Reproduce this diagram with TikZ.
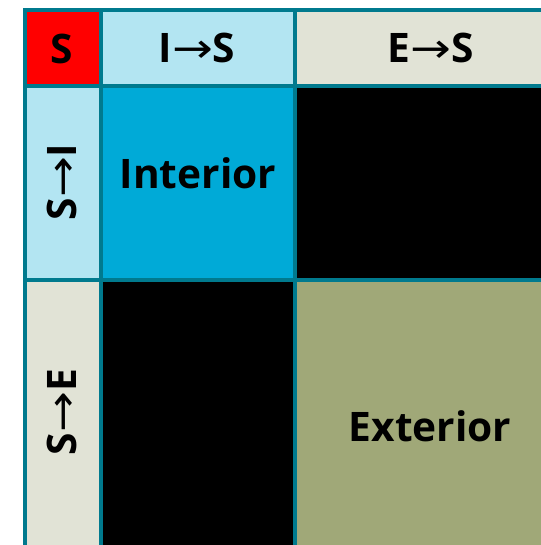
\documentclass[tikz,border=0pt]{standalone}
\usepackage{fontspec}
\setmainfont{Open Sans}
\newfontfamily\arrowfont{DejaVu Sans}
\definecolor{gridline}{RGB}{0,122,142}
\definecolor{paleblue}{RGB}{179,229,242}
\definecolor{deepcyan}{RGB}{0,170,215}
\definecolor{palegrey}{RGB}{225,227,214}
\definecolor{olive}{RGB}{160,168,120}
\newcommand{\arr}{{\arrowfont\mdseries\scalebox{1.2}[1]{→}}}
\begin{document}
\begin{tikzpicture}[x=0.75pt,y=-0.75pt,
  lbl/.style={font=\fontsize{30.5}{36}\selectfont\bfseries, text=black, inner sep=0pt},
  rule/.style={draw=gridline, line width=3pt}]
\useasboundingbox (0,0) rectangle (541,545);
\clip (0,0) rectangle (541,545);
% cell fills
\fill[red]      (24.5,10)  rectangle (101,86);
\fill[paleblue] (101,10)   rectangle (295,86);
\fill[palegrey] (295,10)   rectangle (570,86);
\fill[paleblue] (24.5,86)  rectangle (101,279.5);
\fill[deepcyan] (101,86)   rectangle (295,279.5);
\fill[black]    (295,86)   rectangle (570,279.5);
\fill[palegrey] (24.5,279.5) rectangle (101,570);
\fill[black]    (101,279.5) rectangle (295,570);
\fill[olive]    (295,279.5) rectangle (570,570);
% grid rules
\foreach \gx in {24.5,101,295} \draw[rule] (\gx,8.5) -- (\gx,570);
\foreach \gy in {10,86,279.5} \draw[rule] (23,\gy) -- (570,\gy);
% labels
\node[lbl] (s)   at (62,49)   {S};
\node[lbl] (is)  at (197,48)  {I\arr S};
\node[lbl] (es)  at (431,48)  {E\arr S};
\node[lbl, rotate=90] (si) at (62,182) {S\arr I};
\node[lbl, rotate=90] (se) at (62,412) {S\arr E};
\node[lbl] (int) at (198,173) {Interior};
\node[lbl] (ext) at (430,426) {Exterior};
\end{tikzpicture}
\end{document}
